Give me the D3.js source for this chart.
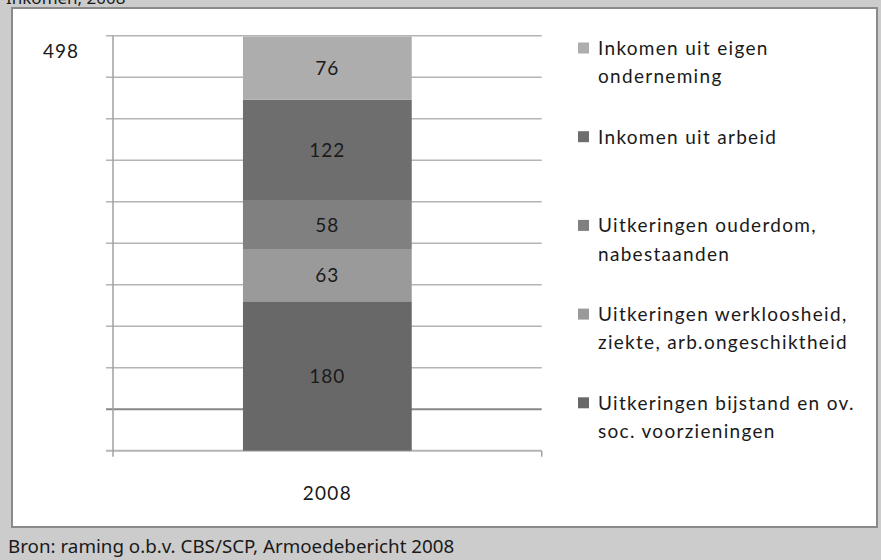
<!DOCTYPE html>
<html>
<head>
<meta charset="utf-8">
<script src="https://cdn.jsdelivr.net/npm/d3@7"></script>
<style>
  body { margin: 0; background: #cccccc; }
  svg { display: block; }
  text { font-family: Lato, "Noto Sans", sans-serif; fill: #1a1a1a; }
</style>
</head>
<body>
<svg width="881" height="560"></svg>
<script>
// data
var year = ["2008"];
var seriesNames = [
  "Uitkeringen bijstand en ov. soc. voorzieningen",
  "Uitkeringen werkloosheid, ziekte, arb.ongeschiktheid",
  "Uitkeringen ouderdom, nabestaanden",
  "Inkomen uit arbeid",
  "Inkomen uit eigen onderneming"
];
var seriesValues = [180, 63, 58, 122, 76];
var legendLines = [
  ["Uitkeringen bijstand en ov.", "soc. voorzieningen"],
  ["Uitkeringen werkloosheid,", "ziekte, arb.ongeschiktheid"],
  ["Uitkeringen ouderdom,", "nabestaanden"],
  ["Inkomen uit arbeid"],
  ["Inkomen uit eigen", "onderneming"]
];
var totalLabel = "498";
var yTicks = [0, 50, 100, 150, 200, 250, 300, 350, 400, 450, 500];
var colors = ["#686868", "#9a9a9a", "#808080", "#6e6e6e", "#adadad"];

var svg = d3.select("svg");

// gray frame with clipped title on top and source at bottom
svg.append("text")
  .attr("x", 6).attr("y", 4)
  .style("font-family", "'Noto Sans', sans-serif")
  .style("font-size", "17px")
  .text("Inkomen, 2008");

svg.append("rect")
  .attr("x", 12).attr("y", 8)
  .attr("width", 865).attr("height", 519)
  .attr("fill", "#ffffff")
  .attr("stroke", "#8a8a8a")
  .attr("stroke-width", 2);

svg.append("text")
  .attr("x", 8).attr("y", 553)
  .style("font-family", "'Noto Sans', sans-serif")
  .style("font-size", "18.8px")
  .text("Bron: raming o.b.v. CBS/SCP, Armoedebericht 2008");

// scales
var y = d3.scaleLinear().domain([0, 500]).range([450.7, 35.7]);
var x = d3.scaleBand().domain(year).range([113, 541.7]).padding(0.435);

// gridlines
svg.append("g").selectAll("line")
  .data(yTicks.slice(1))
  .enter().append("line")
    .attr("x1", 106).attr("x2", 541.7)
    .attr("y1", function(d) { return y(d); })
    .attr("y2", function(d) { return y(d); })
    .attr("stroke", function(d) { return d == 50 ? "#888888" : "#b4b4b4"; })
    .attr("stroke-width", function(d) { return d == 50 ? 2 : 1.5; });

// axes
svg.append("line")
  .attr("x1", 106).attr("x2", 541.7)
  .attr("y1", y(0)).attr("y2", y(0))
  .attr("stroke", "#b4b4b4").attr("stroke-width", 2);
svg.append("line")
  .attr("x1", 113).attr("x2", 113)
  .attr("y1", y(500)).attr("y2", y(0) + 6)
  .attr("stroke", "#a0a0a0").attr("stroke-width", 1.5);
svg.append("line")
  .attr("x1", 541.7).attr("x2", 541.7)
  .attr("y1", y(0)).attr("y2", y(0) + 6)
  .attr("stroke", "#a0a0a0").attr("stroke-width", 1.5);

// stacked bar
var row = { year: year[0] };
seriesNames.forEach(function(n, i) { row[n] = seriesValues[i]; });
var stacked = d3.stack().keys(seriesNames)([row]);

var seg = svg.append("g").selectAll("g")
  .data(stacked)
  .enter().append("g");

seg.append("rect")
  .attr("x", function(d) { return x(d[0].data.year); })
  .attr("width", x.bandwidth())
  .attr("y", function(d) { return y(d[0][1]); })
  .attr("height", function(d) { return y(d[0][0]) - y(d[0][1]); })
  .attr("fill", function(d, i) { return colors[i]; });

seg.append("text")
  .attr("x", function(d) { return x(d[0].data.year) + x.bandwidth() / 2; })
  .attr("y", function(d) { return (y(d[0][0]) + y(d[0][1])) / 2; })
  .attr("dy", "0.36em")
  .attr("text-anchor", "middle")
  .style("font-size", "19px")
  .style("letter-spacing", "1px")
  .text(function(d, i) { return seriesValues[i]; });

// category label
svg.append("text")
  .attr("x", x(year[0]) + x.bandwidth() / 2)
  .attr("y", 493)
  .attr("dy", "0.36em")
  .attr("text-anchor", "middle")
  .style("font-size", "19px")
  .style("letter-spacing", "1.3px")
  .text(year[0]);

// total label
svg.append("text")
  .attr("x", 43).attr("y", 51)
  .attr("dy", "0.36em")
  .style("font-size", "19px")
  .style("letter-spacing", "1px")
  .text(totalLabel);

// legend (top to bottom = reverse stack order)
var legendOrder = d3.range(seriesNames.length).reverse();
var leg = svg.append("g").selectAll("g")
  .data(legendOrder)
  .enter().append("g")
    .attr("transform", function(d, i) { return "translate(578," + (48 + i * 88.7) + ")"; });

leg.append("rect")
  .attr("x", 0).attr("y", -5.5)
  .attr("width", 11).attr("height", 11)
  .attr("fill", function(d) { return colors[d]; });

leg.each(function(d) {
  var t = d3.select(this).append("text")
    .attr("x", 20)
    .style("font-size", "19px")
    .style("letter-spacing", "1.3px");
  legendLines[d].forEach(function(line, j) {
    t.append("tspan")
      .attr("x", 20)
      .attr("y", j * 28.5)
      .attr("dy", "0.36em")
      .text(line);
  });
});
</script>
</body>
</html>
